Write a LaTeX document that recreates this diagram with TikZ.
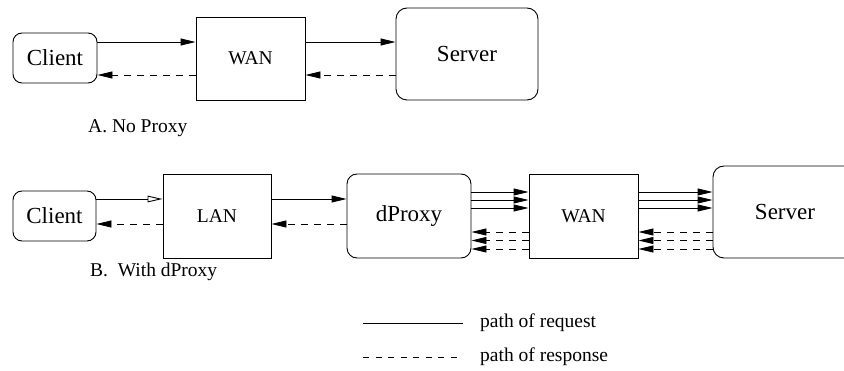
\documentclass[tikz,border=0pt]{standalone}
\usepackage{fontspec}
\setmainfont{Liberation Serif}
\usetikzlibrary{arrows.meta}

\tikzset{
  host/.style={draw, rounded corners=9pt, inner sep=0pt, line width=0.9pt,
    font=\fontsize{23}{26}\selectfont},
  net/.style={draw, inner sep=0pt, line width=0.9pt,
    font=\fontsize{19.5}{22}\selectfont},
  req/.style={line width=0.9pt, -{Triangle[length=15pt,width=7pt]}},
  reqopen/.style={line width=0.9pt, -{Triangle[open,length=15pt,width=6.5pt]}},
  resp/.style={line width=0.9pt, dash pattern=on 7pt off 6pt, -{Triangle[length=15pt,width=7pt]}},
  caption/.style={anchor=base west, inner sep=0pt, font=\fontsize{19.5}{22}\selectfont},
}

\begin{document}
\begin{tikzpicture}[x=1pt,y=1pt,yscale=-1]
        \useasboundingbox (0,0) rectangle (844,371);
        \clip (0,0) rectangle (844,371);

        %A. no proxy
        \node [host, minimum width=84pt, minimum height=50pt] (client1) at (55,58) {Client};
        \node [net, minimum width=109pt, minimum height=83pt] (wan1) at (250.5,58.5) {WAN};
        \node [host, rounded corners=11pt, minimum width=142pt, minimum height=92pt] (server1) at (467,54) {Server};

        \draw [req] ([yshift=-16pt]client1.east) -- ([yshift=-16pt]client1.east -| wan1.west);
        \draw [req] ([yshift=-16pt]client1.east -| wan1.east) -- ([yshift=-16pt]client1.east -| server1.west);
        \draw [resp] ([yshift=17pt]client1.east -| wan1.west) -- ([yshift=17pt]client1.east);
        \draw [resp] ([yshift=17pt]client1.east -| server1.west) -- ([yshift=17pt]client1.east -| wan1.east);

        % Text Node
        \node [caption] (capA) at (88,133) {A. No Proxy};

        %B. with dProxy
        \node [host, minimum width=83pt, minimum height=50pt] (client2) at (54.5,216) {Client};
        \node [net, minimum width=108pt, minimum height=84pt] (lan) at (217,216) {LAN};
        \node [host, rounded corners=10pt, minimum width=124pt, minimum height=84pt] (dproxy) at (409,216) {dProxy};
        \node [net, minimum width=109pt, minimum height=84pt] (wan2) at (583.5,216) {WAN};
        \node [host, rounded corners=11pt, minimum width=144pt, minimum height=92pt] (server2) at (785,212) {Server};

        \draw [reqopen] ([yshift=-17pt]client2.east) -- ([yshift=-17pt]client2.east -| lan.west);
        \draw [req] ([yshift=-17pt]lan.east) -- ([yshift=-17pt]lan.east -| dproxy.west);
        \draw [resp] ([yshift=8pt]lan.west) -- ([yshift=8pt]client2.east);
        \draw [resp] ([yshift=8pt]dproxy.west) -- ([yshift=8pt]lan.east);

        % several parallel requests and responses across the WAN
        \foreach \dy in {-24,-16,-8} {
          \draw [req] ([yshift=\dy pt]dproxy.east) -- ([yshift=\dy pt]dproxy.east -| wan2.west);
          \draw [req] ([yshift=\dy pt]wan2.east) -- ([yshift=\dy pt]wan2.east -| server2.west);
        }
        \foreach \dy in {16,24.5,33} {
          \draw [resp] ([yshift=\dy pt]wan2.west) -- ([yshift=\dy pt]dproxy.east);
          \draw [resp] ([yshift=\dy pt]wan2.east -| server2.west) -- ([yshift=\dy pt]wan2.east);
        }

        % Text Node
        \node [caption] (capB) at (90,277) {B.\ \ With dProxy};

        %legend
        \coordinate (legreq) at (363,323);
        \coordinate (legresp) at (363,357);
        \node [caption, anchor=west] (reqtext) at (480,323) {path of request};
        \node [caption, anchor=west] (resptext) at (480,357) {path of response};
        \draw [line width=0.9pt] (legreq) -- ++(100,0);
        \draw [line width=0.9pt, dash pattern=on 6pt off 6.5pt] (legresp) -- ++(100,0);

\end{tikzpicture}
\end{document}
